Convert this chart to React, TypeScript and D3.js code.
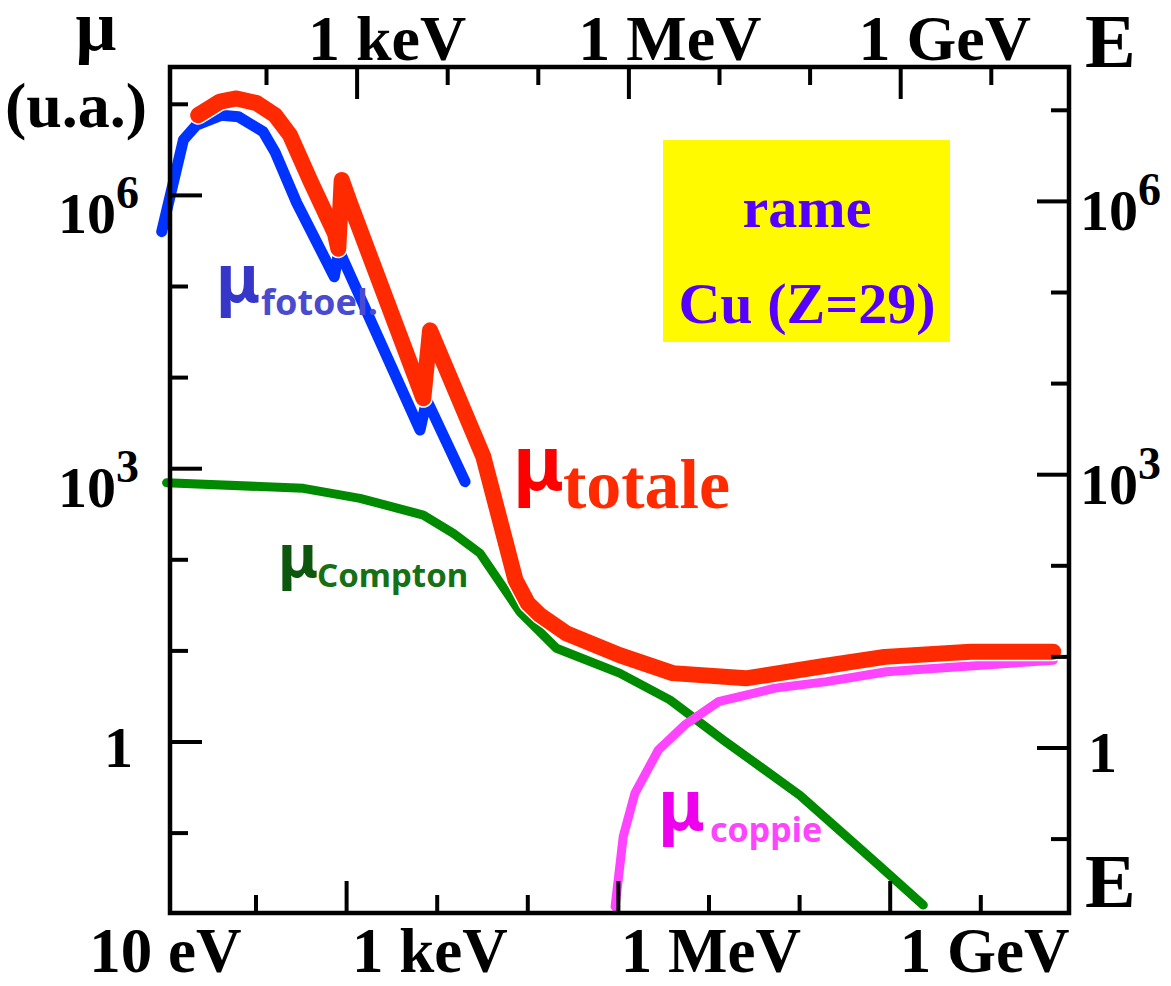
import React from "react";
import * as d3 from "d3";

// energies in eV, attenuation in arbitrary units (u.a.)
const photoE = [9.1, 15.8, 22, 41.8, 64, 120, 162, 281, 731, 824, 6460, 7660, 20300];
const photoMu = [4.0e5, 4.06e6, 5.9e6, 7.6e6, 7.3e6, 5.0e6, 3.0e6, 8.3e5, 1.28e5, 2.5e5, 2660, 5680, 720];

const totE = [23, 40, 61, 102, 162, 237, 394, 745, 810, 883, 1090, 7030, 8340, 32300, 73100, 1.0e5, 1.36e5, 2.67e5, 1.03e6, 3.97e6, 2.56e7, 1.66e8, 8.7e8, 7.7e9, 6.3e10];
const totMu = [7.6e6, 1.07e7, 1.16e7, 1.03e7, 7.6e6, 4.6e6, 1.48e6, 3.8e5, 2.6e5, 1.48e6, 8.2e5, 5930, 3.3e4, 1355, 60, 33.3, 24.8, 15.6, 9.0, 5.7, 5.0, 6.7, 8.6, 9.8, 9.8];

const compE = [10.3, 333, 1406, 7030, 15100, 29700, 82000, 2.07e5, 1.03e6, 3.7e6, 1.44e7, 1.01e8, 7.1e8, 2.32e9];
const compMu = [702, 609, 473, 310, 195, 118, 26.7, 10.7, 5.7, 2.9, 1.05, 0.26, 0.0466, 0.0162];

const pairE = [9.2e5, 1.13e6, 1.52e6, 2.76e6, 5.4e6, 1.27e7, 5.35e7, 1.99e8, 9.1e8, 3.0e9, 6.3e10];
const pairMu = [0.0156, 0.0913, 0.273, 0.817, 1.54, 2.77, 3.9, 4.6, 5.9, 6.4, 7.9];

// axis decorations
const xTickExp = [2, 3, 4, 5, 6, 7, 8, 9, 10];
const xLongExp = [3, 6, 9];
const yTickExp = [-1, 0, 1, 2, 3, 4, 5, 6, 7];
const yLongExp = [0, 3, 6];
const bottomLabels = ["10 eV", "1 keV", "1 MeV", "1 GeV"];
const bottomLabelAt = [10, 8.3e3, 1.05e7, 1.1e10];
const topLabels = ["1 keV", "1 MeV", "1 GeV"];
const topLabelAt = [2.8e3, 3.7e6, 4.0e9];
const yLabelExp = [6, 3, 0];

const W = 1171;
const H = 986;
const L = 170, R = 1069, T = 67, B = 913;

const SERIF = "'Liberation Serif', 'Times New Roman', serif";
const HAND = "'Comic Sans MS', 'Noto Sans', sans-serif";

const x = d3.scaleLog().domain([10, 1e11]).range([165.4, 1071.4]);
const xTop = d3.scaleLog().domain([10, 1e11]).range([175.9, 1081.9]);
const y = d3.scaleLog().domain([1e-2, 1e8]).range([924.2, 13.2]);
const yRight = d3.scaleLog().domain([1e-2, 1e8]).range([930.2, 19.2]);

const zip = (a: number[], b: number[]) => a.map((v, i) => [v, b[i]] as [number, number]);
const line = d3.line<[number, number]>().x(d => x(d[0])).y(d => y(d[1]));

export default function App() {
  const tot = line(zip(totE, totMu)) || "";
  return (
    <svg width={W} height={H} style={{ position: "absolute", left: 0, top: 0, background: "#fff" }}>
      {/* curves */}
      <path d={line(zip(compE, compMu)) || ""} fill="none" stroke="#008a00" strokeWidth={9} strokeLinecap="round" strokeLinejoin="round" />
      <path d={line(zip(photoE, photoMu)) || ""} fill="none" stroke="#0033ff" strokeWidth={11} strokeLinecap="round" strokeLinejoin="round" />
      <path d={line(zip(pairE, pairMu)) || ""} fill="none" stroke="#ff44ff" strokeWidth={9} strokeLinecap="round" strokeLinejoin="round" />
      <path d={tot} fill="none" stroke="#fff" strokeWidth={19} strokeLinecap="round" strokeLinejoin="round" />
      <path d={tot} fill="none" stroke="#ff2a00" strokeWidth={16} strokeLinecap="round" strokeLinejoin="round" />

      {/* frame */}
      <rect x={L} y={T} width={R - L} height={B - T} fill="none" stroke="#000" strokeWidth={4.5} />
      {xTickExp.map(k => {
        const len = xLongExp.includes(k) ? 32 : 18;
        return (
          <g key={"xt" + k} stroke="#000" strokeWidth={4}>
            <line x1={x(10 ** k)} x2={x(10 ** k)} y1={B} y2={B - len} />
            <line x1={xTop(10 ** k)} x2={xTop(10 ** k)} y1={T} y2={T + len} />
          </g>
        );
      })}
      {yTickExp.map(k => {
        const len = yLongExp.includes(k) ? 32 : 18;
        return (
          <g key={"yt" + k} stroke="#000" strokeWidth={4}>
            <line x1={L} x2={L + len} y1={y(10 ** k)} y2={y(10 ** k)} />
            <line x1={R} x2={R - len} y1={yRight(10 ** k)} y2={yRight(10 ** k)} />
          </g>
        );
      })}

      {/* axis labels */}
      <g fontFamily={SERIF} fontWeight="bold" fill="#000">
        {bottomLabels.map((s, i) => (
          <text key={s} x={x(bottomLabelAt[i])} y={972} fontSize={63} textAnchor="middle">{s}</text>
        ))}
        {topLabels.map((s, i) => (
          <text key={s} x={x(topLabelAt[i])} y={60} fontSize={64} textAnchor="middle">{s}</text>
        ))}
        {yLabelExp.map(k => (
          <text key={"l" + k} x={k === 0 ? 133 : 139} y={y(10 ** k) + (k === 0 ? 25 : 38)} fontSize={58} textAnchor="end">
            {k === 0 ? "1" : <>10<tspan fontSize={46} dy={-25}>{k}</tspan></>}
          </text>
        ))}
        {yLabelExp.map(k => (
          <text key={"r" + k} x={k === 0 ? 1088 : 1080} y={yRight(10 ** k) + (k === 0 ? 24 : 29)} fontSize={58}>
            {k === 0 ? "1" : <>10<tspan fontSize={46} dy={-25}>{k}</tspan></>}
          </text>
        ))}
        <text x={96} y={50} fontSize={72} textAnchor="middle">μ</text>
        <text x={76} y={127} fontSize={64} textAnchor="middle">(u.a.)</text>
        <text x={1085} y={67} fontSize={76}>E</text>
        <text x={1085} y={907} fontSize={76}>E</text>
      </g>

      {/* material box */}
      <rect x={663} y={140} width={287} height={202} fill="#fffa00" />
      <g fontFamily={SERIF} fontWeight="bold" fill="#5500ff" fontSize={58} textAnchor="middle">
        <text x={807} y={227}>rame</text>
        <text x={807} y={323}>Cu (Z=29)</text>
      </g>

      {/* curve labels */}
      <g fontFamily={HAND}>
        <text x={216} y={302} fontSize={66} fill="#3636c8" fontWeight="bold">μ</text>
        <text x={261} y={315} fontSize={36} fill="#4a4ad0" fontWeight="bold">fotoel.</text>
        <text x={278} y={577} fontSize={60} fill="#0d560d" fontWeight="bold">μ</text>
        <text x={317} y={587} fontSize={33} fill="#167016" fontWeight="bold">Compton</text>
        <text x={513} y={490} fontSize={76} fill="#ff0000" fontWeight="bold">μ</text>
        <text x={658} y={830} fontSize={70} fill="#ee00ee" fontWeight="bold">μ</text>
        <text x={710} y={842} fontSize={34} fill="#ff44ff" fontWeight="bold">coppie</text>
      </g>
      <text x={563} y={508} fontFamily={SERIF} fontWeight="bold" fontSize={70} fill="#ff2a00">totale</text>
    </svg>
  );
}
